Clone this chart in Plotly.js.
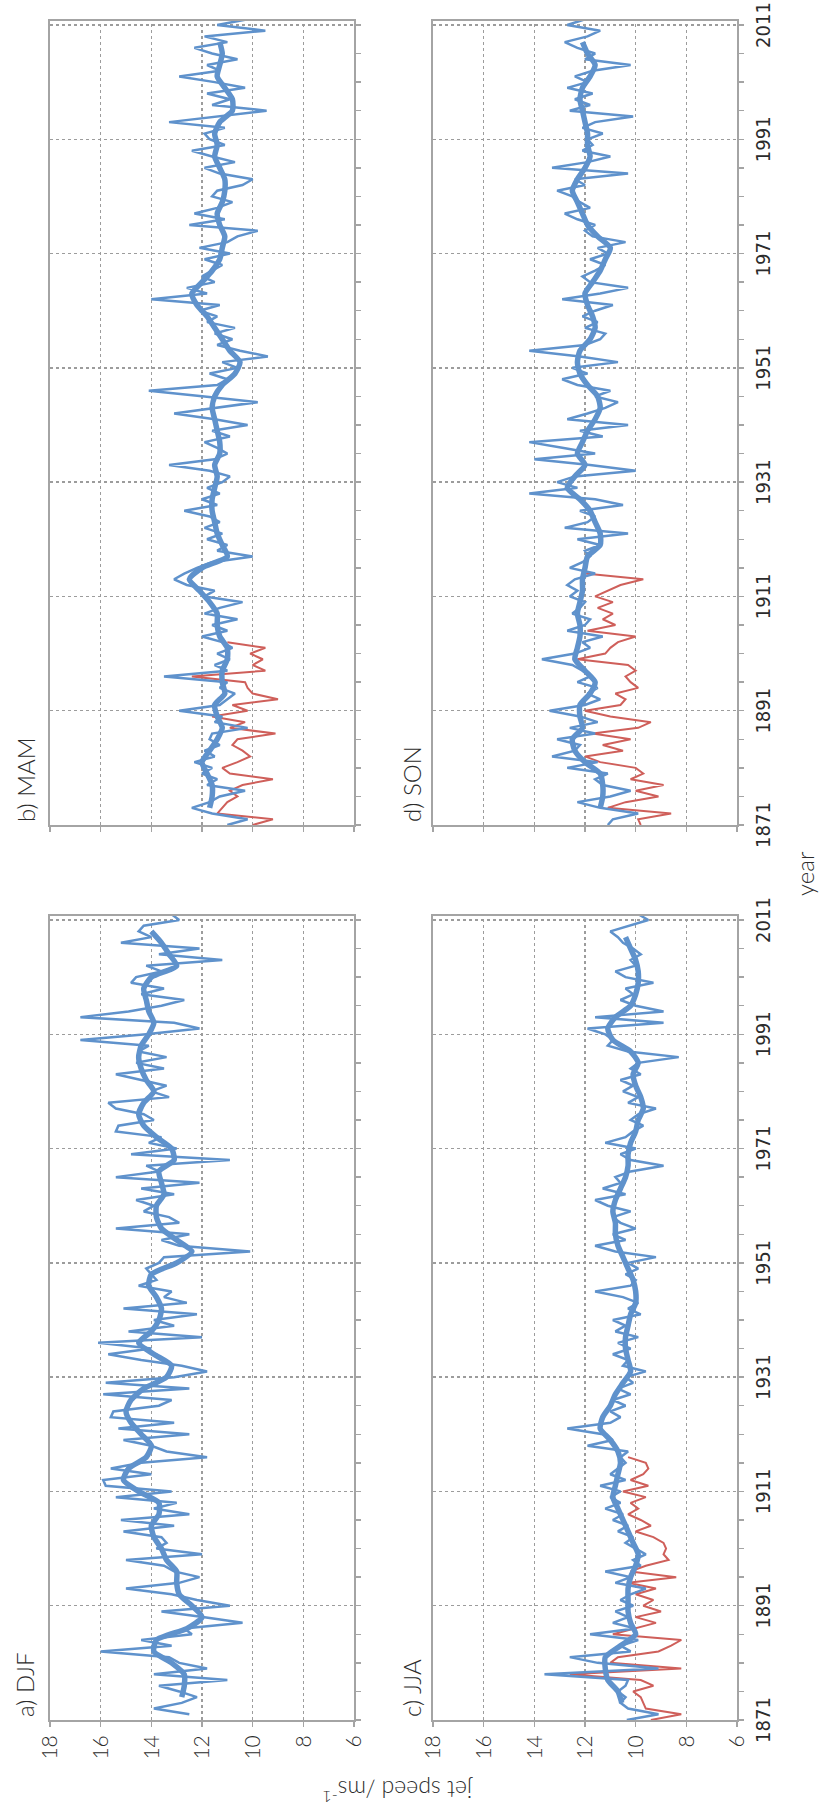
<!DOCTYPE html>
<html>
<head>
<meta charset="utf-8">
<script src="https://cdn.plot.ly/plotly-3.0.1.min.js"></script>
<style>
  html, body { margin: 0; padding: 0; background: #fff; overflow: hidden; width: 819px; height: 1820px; }
  /* The four-panel figure is laid out landscape and turned a quarter turn anticlockwise onto the portrait page */
  #turn { position: absolute; left: 0; top: 0; width: 1820px; height: 819px;
          transform-origin: 0 0; transform: translate(0px, 1820px) rotate(-90deg); }
  #chart { width: 1820px; height: 819px; }
</style>
</head>
<body>
<div id="turn"><div id="chart"></div></div>
<script>
// ---- axis ticks ----
const speedTicks = [6, 8, 10, 12, 14, 16, 18];
const yearTicks = [1871, 1891, 1911, 1931, 1951, 1971, 1991, 2011];

// ---- a) DJF : annual jet speed (winters 1872-2012) ----
const djfStart = 1872;
const djfThin = [
  12.5, 13.9, 12.8, 12.2, 12.9, 13.7, 11.0, 13.9, 11.8,
  12.9, 13.3, 16.0, 13.2, 14.4, 12.4, 12.7, 10.4, 11.9, 13.6,
  10.9, 12.2, 13.2, 15.0, 12.9, 12.1, 13.1, 13.5, 15.0, 12.0,
  13.8, 13.4, 13.6, 15.1, 13.1, 15.2, 12.5, 13.9, 13.0, 15.4,
  13.2, 15.8, 15.9, 14.0, 15.6, 14.4, 11.8, 13.4, 14.0, 15.1,
  12.5, 15.3, 13.1, 15.6, 15.5, 13.7, 13.2, 15.9, 12.5, 15.8,
  13.1, 11.8, 12.8, 14.4, 15.7, 14.0, 16.1, 12.0, 14.9, 13.1,
  13.9, 12.2, 15.1, 12.6, 13.5, 13.2, 14.5, 13.8, 14.0, 14.2,
  13.7, 13.5, 10.1, 12.9, 13.6, 12.5, 15.4, 12.9, 13.3, 14.3,
  13.9, 14.6, 13.1, 14.4, 12.1, 15.4, 13.7, 14.2, 10.9, 14.8,
  13.0, 14.1, 13.6, 15.4, 15.3, 13.9, 14.3, 15.4, 15.7, 13.3,
  14.0, 13.4, 14.4, 15.4, 13.5, 14.6, 13.4, 14.5, 14.1, 16.8,
  14.2, 12.1, 13.1, 16.8, 14.9, 13.6, 12.7, 14.4, 13.5, 14.8,
  14.6, 13.6, 14.2, 11.2, 13.7, 12.1, 15.2, 14.0, 14.5, 14.3,
  12.9, 13.2
];
const djfSmoothYears = [
  1875, 1877, 1879, 1881, 1883, 1885, 1887, 1889, 1891, 1893, 1895, 1897, 1899,
  1901, 1903, 1905, 1907, 1909, 1911, 1913, 1915, 1917, 1919, 1921, 1923, 1925, 1927, 1929,
  1931, 1933, 1935, 1937, 1939, 1941, 1943, 1945, 1947, 1949, 1951, 1953, 1955, 1957, 1959,
  1961, 1963, 1965, 1967, 1969, 1971, 1973, 1975, 1977, 1979, 1981, 1983, 1985, 1987, 1989,
  1991, 1993, 1995, 1997, 1999, 2001, 2003, 2005, 2007, 2009
];
const djfSmooth = [
  12.8, 12.7, 12.7, 13.2, 13.9, 13.8, 12.6, 12.0, 12.4, 12.9, 13.0, 13.0, 13.4,
  13.6, 13.9, 14.0, 13.7, 13.7, 14.5, 15.1, 14.9, 14.2, 14.0, 14.4, 14.8, 15.0, 14.8, 14.3,
  13.4, 13.2, 13.9, 14.5, 14.0, 13.7, 13.6, 13.8, 14.1, 14.0, 13.0, 12.4, 13.0, 13.6, 13.8,
  13.8, 13.5, 13.6, 13.7, 13.1, 13.2, 13.8, 14.3, 14.5, 14.3, 13.9, 14.2, 14.4, 14.5, 14.4,
  14.1, 13.9, 14.1, 14.2, 14.3, 14.0, 13.0, 13.3, 13.6, 14.0
];

// ---- b) MAM (1871-2012) ----
const mamThin = [
  11.0, 10.2, 11.6, 12.4, 11.7, 11.3, 10.3, 11.8, 11.4, 12.0,
  11.6, 12.3, 11.5, 11.9, 11.3, 11.7, 11.6, 10.2, 11.5, 11.2,
  12.9, 11.3, 11.0, 10.7, 11.3, 11.0, 13.5, 11.0, 11.5, 10.9,
  11.4, 10.8, 11.2, 12.0, 11.0, 11.6, 10.6, 11.9, 11.3, 10.4,
  11.9, 11.5, 12.6, 13.1, 12.7, 12.2, 11.6, 10.0, 11.4, 11.0,
  11.8, 11.2, 11.9, 11.3, 11.7, 12.7, 11.4, 12.0, 11.3, 11.8,
  11.2, 10.9, 11.7, 13.3, 11.5, 11.0, 11.4, 11.9, 10.9, 11.6,
  10.2, 11.5, 13.1, 11.4, 9.8, 11.9, 14.1, 11.4, 11.0, 11.7,
  10.6, 11.2, 9.4, 10.5, 11.4, 10.8, 11.5, 10.7, 11.8, 11.4,
  12.1, 11.3, 14.0, 11.8, 12.6, 11.5, 12.0, 11.6, 11.2, 11.9,
  10.9, 12.1, 11.0, 10.6, 9.8, 12.5, 11.1, 12.3, 11.4, 10.8,
  11.6, 11.4, 10.4, 10.0, 11.3, 11.9, 10.7, 11.6, 12.4, 11.1,
  11.7, 11.9, 11.1, 13.3, 11.3, 9.45, 11.6, 10.9, 11.8, 10.3,
  11.5, 12.9, 11.3, 11.8, 10.6, 11.6, 12.3, 11.0, 11.9, 9.5,
  11.4, 10.2
];
const mamEarly = [
  10.0, 9.2, 11.4, 11.2, 11.0, 10.6, 10.9, 10.4, 9.2, 10.9,
  11.2, 10.6, 10.1, 10.4, 10.8, 10.6, 9.1, 10.9, 10.3, 11.6,
  10.2, 10.8, 9.0, 10.0, 10.2, 10.3, 12.4, 9.5, 10.0, 9.6,
  10.1, 9.5, 11.0
];
const mamSmooth = [
  11.7, 11.6, 11.6, 11.8, 12.0, 11.7, 11.4, 11.2, 11.4, 11.5, 11.1, 11.2, 11.2,
  11.0, 11.0, 11.3, 11.4, 11.4, 11.7, 12.1, 12.5, 12.0, 11.0, 11.2, 11.4, 11.5, 11.6,
  11.6, 11.5, 11.4, 11.5, 11.3, 11.3, 11.4, 11.5, 11.6, 11.5, 11.2, 10.7, 10.5, 10.9,
  11.2, 11.5, 11.8, 12.2, 12.4, 12.0, 11.6, 11.3, 11.2, 11.1, 11.3, 11.4, 11.2, 11.1,
  11.1, 11.3, 11.5, 11.4, 11.5, 11.3, 10.8, 10.8, 11.1, 11.4, 11.3, 11.2, 11.3
];

// ---- c) JJA (1871-2012) ----
const jjaThin = [
  10.35, 9.1, 10.3, 10.6, 10.4, 10.7, 10.4, 10.3, 13.6, 9.1,
  11.5, 12.6, 10.2, 10.6, 9.9, 11.8, 10.0, 10.9, 10.3, 10.8,
  10.1, 10.6, 10.2, 9.6, 10.8, 10.2, 11.2, 9.8, 10.1, 9.6,
  10.0, 10.4, 10.1, 10.7, 10.3, 10.9, 10.5, 11.2, 10.6, 11.0,
  10.6, 11.4, 10.4, 11.0, 10.7, 10.4, 10.6, 10.3, 11.9, 10.9,
  11.3, 12.7, 11.0, 10.6, 11.0, 10.4, 10.9, 10.2, 10.7, 10.1,
  10.4, 9.6, 10.5, 10.3, 10.9, 10.2, 10.7, 9.9, 10.8, 10.4,
  10.9, 9.8, 10.3, 9.9, 10.5, 11.6, 10.2, 10.0, 10.4, 9.9,
  10.3, 9.2, 10.8, 11.6, 10.4, 10.9, 10.0, 10.6, 10.9, 10.2,
  11.1, 11.6, 10.4, 11.3, 10.6, 10.8, 10.2, 8.9, 10.2, 10.6,
  10.0, 11.2, 10.4, 10.1, 9.7, 10.2, 9.9, 9.2, 10.3, 9.9,
  10.5, 10.1, 10.6, 9.8, 10.2, 9.9, 8.3, 10.3, 11.1, 10.9,
  11.2, 11.9, 8.9, 11.6, 8.9, 10.0, 10.6, 10.1, 10.4, 9.3,
  10.4, 10.8, 10.0, 10.2, 9.8, 10.1, 10.5, 10.7, 11.0, 10.2,
  9.5, 9.9
];
const jjaEarly = [
  9.4, 8.2, 9.6, 9.7, 9.8, 10.1, 9.3, 9.8, 12.6, 8.2,
  11.0, 10.7, 9.1, 8.6, 8.2, 10.9, 10.0, 9.2, 10.0, 9.0,
  9.7, 9.3, 10.0, 9.2, 10.3, 8.4, 10.2, 9.6, 8.7, 8.9,
  8.8, 8.9, 9.3, 10.0, 9.4, 9.8, 10.3, 9.9, 10.2, 9.6,
  10.5, 9.5, 10.2, 9.7, 9.5, 9.6, 10.3
];
const jjaSmooth = [
  10.55, 10.7, 11.1, 11.2, 11.2, 10.6, 10.0, 10.2, 10.3, 10.3, 10.3, 10.2, 10.0,
  9.9, 10.1, 10.3, 10.5, 10.7, 10.9, 10.8, 10.7, 10.6, 10.7, 11.0, 11.4, 11.3, 11.0,
  10.8, 10.5, 10.2, 10.3, 10.4, 10.4, 10.3, 10.2, 10.0, 10.0, 10.1, 10.3, 10.5, 10.7,
  10.8, 10.8, 10.9, 10.8, 10.6, 10.4, 10.3, 10.3, 10.2, 10.0, 9.9, 9.7, 9.8, 10.0,
  10.1, 9.9, 10.2, 10.9, 11.1, 10.8, 10.2, 10.0, 9.9, 9.9, 10.0, 10.2, 10.4
];

// ---- d) SON (1871-2012) ----
const sonThin = [
  11.1, 10.9, 9.9, 11.4, 12.3, 11.0, 10.2, 11.3, 11.6, 11.1,
  12.7, 11.5, 13.3, 12.4, 12.2, 13.1, 11.6, 12.6, 11.5, 12.2,
  13.4, 12.0, 11.4, 11.9, 11.5, 12.3, 11.8, 12.1, 12.5, 13.7,
  12.4, 11.8, 12.1, 11.3, 12.7, 12.0, 11.8, 12.5, 12.2, 12.0,
  12.6, 12.3, 12.7, 12.4, 11.6, 12.6, 12.1, 11.8, 12.0, 11.4,
  12.3, 10.3, 12.8, 11.9, 11.6, 12.2, 10.5, 11.6, 14.2, 12.3,
  13.1, 12.4, 10.0, 11.8, 14.0, 11.6, 12.9, 14.2, 11.3, 12.2,
  10.3, 12.7, 11.9, 11.2, 10.7, 11.6, 11.0, 12.3, 12.9, 11.9,
  12.5, 10.7, 12.2, 14.2, 12.0, 11.4, 11.2, 12.0, 11.5, 12.1,
  11.6, 10.9, 12.9, 11.4, 10.3, 11.8, 12.1, 11.6, 11.2, 11.8,
  11.1, 11.5, 10.4, 11.7, 12.0, 11.6, 12.3, 12.8, 11.8, 12.2,
  12.5, 13.1, 12.0, 12.4, 10.3, 13.3, 11.9, 11.0, 12.1, 11.7,
  11.9, 11.3, 12.1, 11.6, 10.1, 12.6, 11.8, 12.4, 11.7, 12.7,
  11.9, 12.4, 11.7, 10.2, 12.0, 11.6, 12.3, 12.8, 11.9, 11.4,
  12.7, 12.0
];
const sonEarly = [
  9.8, 9.9, 8.6, 11.1, 10.4, 9.1, 10.0, 8.9, 10.2, 9.7,
  10.0, 11.4, 12.0, 10.5, 11.3, 10.2, 11.7, 9.9, 9.4, 11.0,
  12.0, 10.6, 10.4, 10.8, 9.9, 10.2, 10.4, 10.0, 10.3, 12.3,
  11.2, 11.0, 10.7, 10.0, 11.9, 10.8, 11.3, 10.9, 11.5, 10.9,
  11.6, 11.1, 10.6, 9.7, 12.0
];
const sonSmooth = [
  11.4, 11.3, 11.3, 11.4, 12.0, 12.4, 12.5, 12.1, 12.2, 12.2, 11.8, 11.6, 12.0,
  12.4, 12.3, 12.2, 12.2, 12.3, 12.2, 12.1, 12.1, 12.0, 11.9, 11.4, 11.4, 11.6, 11.8,
  12.2, 12.7, 12.4, 12.0, 12.3, 12.1, 11.9, 11.6, 11.4, 11.5, 11.9, 12.2, 12.3, 12.2,
  11.8, 11.6, 11.7, 11.9, 12.0, 11.7, 11.4, 11.2, 11.0, 11.5, 11.9, 12.1, 12.3, 12.5,
  12.3, 12.0, 11.8, 11.9, 11.9, 12.0, 12.1, 12.2, 12.1, 11.8, 11.6, 11.9, 12.1
];

// smoothed curves of b), c), d) are sampled every second year from 1874
const smoothYears = [];
for (let y = 1874; y <= 2008; y += 2) smoothYears.push(y);

function yearsFrom(start, n) {
  const out = [];
  for (let i = 0; i < n; i++) out.push(start + i);
  return out;
}

const BLUE = '#5f92cc';
const RED = '#cf5f5a';

function panelTraces(xa, ya, start, thin, early, sYears, smooth) {
  const out = [];
  if (early) {
    out.push({ x: yearsFrom(1871, early.length), y: early, xaxis: xa, yaxis: ya,
      type: 'scatter', mode: 'lines', line: { color: RED, width: 2 }, hoverinfo: 'skip' });
  }
  out.push({ x: yearsFrom(start, thin.length), y: thin, xaxis: xa, yaxis: ya,
    type: 'scatter', mode: 'lines', line: { color: BLUE, width: 2.5 }, hoverinfo: 'skip' });
  out.push({ x: sYears, y: smooth, xaxis: xa, yaxis: ya,
    type: 'scatter', mode: 'lines', line: { color: BLUE, width: 5.5, shape: 'spline', smoothing: 0.6 },
    hoverinfo: 'skip' });
  return out;
}

const data = [].concat(
  panelTraces('x', 'y', djfStart, djfThin, null, djfSmoothYears, djfSmooth),
  panelTraces('x2', 'y2', 1871, mamThin, mamEarly, smoothYears, mamSmooth),
  panelTraces('x3', 'y3', 1871, jjaThin, jjaEarly, smoothYears, jjaSmooth),
  panelTraces('x4', 'y4', 1871, sonThin, sonEarly, smoothYears, sonSmooth)
);

const FRAME = '#a4a4a4';
const GRID = '#9c9c9c';
const TEXT = '#2b2b2b';
const LIGHT = 'Lato, Liberation Sans, Arial, sans-serif';

function yearAxis(domain, anchor, labels) {
  return {
    domain: domain, anchor: anchor, side: 'bottom',
    range: [1871, 2011.75], tickmode: 'array', tickvals: yearTicks,
    ticktext: yearTicks.map(String), showticklabels: labels,
    ticks: 'outside', ticklen: 5, tickwidth: 1.5, tickcolor: FRAME, ticklabelstandoff: 2,
    tickfont: { family: 'Liberation Sans Narrow, DejaVu Sans Condensed, Liberation Sans, sans-serif', size: 20, color: TEXT },
    showgrid: true, gridcolor: GRID, griddash: 'dot', gridwidth: 1.5,
    minor: { tickmode: 'linear', tick0: 1871, dtick: 5, ticks: 'outside', ticklen: 5, tickwidth: 1.5, tickcolor: FRAME, showgrid: false },
    showline: true, linecolor: FRAME, linewidth: 2, mirror: true, zeroline: false, fixedrange: true
  };
}
function speedAxis(domain, anchor, labels) {
  return {
    domain: domain, anchor: anchor, side: 'left',
    range: [6, 18], tickmode: 'array', tickvals: speedTicks,
    ticktext: speedTicks.map(String), showticklabels: labels,
    ticks: 'outside', ticklen: 5, tickwidth: 1.5, tickcolor: FRAME, ticklabelstandoff: 4,
    tickfont: { family: LIGHT, weight: 300, size: 21, color: TEXT },
    showgrid: true, gridcolor: GRID, griddash: 'dot', gridwidth: 1.5,
    showline: true, linecolor: FRAME, linewidth: 2, mirror: true, zeroline: false, fixedrange: true
  };
}

const W = 1820, H = 819;
const leftCol = [100 / W, 904.3 / W];
const rightCol = [995 / W, 1799.3 / W];
const topRow = [(H - 354) / H, (H - 50) / H];
const bottomRow = [(H - 737) / H, (H - 433) / H];

const labelFont = { family: LIGHT, weight: 300, size: 24, color: TEXT };
function panelLabel(text, px, py) {
  return { text: text, xref: 'paper', yref: 'paper', x: px / W, y: (H - py) / H,
    xanchor: 'left', yanchor: 'middle', showarrow: false, font: labelFont };
}

const layout = {
  width: W, height: H,
  margin: { l: 0, r: 0, t: 0, b: 0 },
  paper_bgcolor: '#ffffff', plot_bgcolor: '#ffffff',
  showlegend: false,
  xaxis: yearAxis(leftCol, 'y', false), yaxis: speedAxis(topRow, 'x', true),
  xaxis2: yearAxis(rightCol, 'y2', false), yaxis2: speedAxis(topRow, 'x2', false),
  xaxis3: yearAxis(leftCol, 'y3', true), yaxis3: speedAxis(bottomRow, 'x3', true),
  xaxis4: yearAxis(rightCol, 'y4', true), yaxis4: speedAxis(bottomRow, 'x4', false),
  annotations: [
    panelLabel('a) DJF', 101, 24),
    panelLabel('b) MAM', 996, 25),
    panelLabel('c) JJA', 101, 411),
    panelLabel('d) SON', 996, 411),
    { text: 'jet speed /ms<sup>-1</sup>', xref: 'paper', yref: 'paper', x: 28 / W, y: (H - 398) / H,
      xanchor: 'center', yanchor: 'middle', textangle: -90, showarrow: false,
      font: { family: LIGHT, weight: 300, size: 23, color: TEXT } },
    { text: 'year', xref: 'paper', yref: 'paper', x: 946 / W, y: (H - 804) / H,
      xanchor: 'center', yanchor: 'middle', showarrow: false,
      font: { family: LIGHT, weight: 300, size: 24, color: TEXT } }
  ]
};

Plotly.newPlot('chart', data, layout, { staticPlot: true, displayModeBar: false });
</script>
</body>
</html>
